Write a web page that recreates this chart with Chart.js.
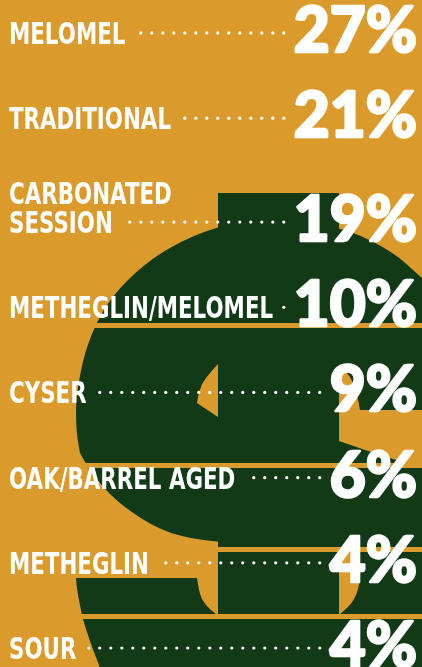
<!DOCTYPE html>
<html lang="en">
<head>
<meta charset="UTF-8">
<title>Mead styles</title>
<script src="https://cdn.jsdelivr.net/npm/chart.js"></script>
<style>
    html, body { margin: 0; padding: 0; background: #db9b2c; overflow: hidden; }
    #wrap { width: 422px; height: 667px; }
</style>
</head>
<body>
<div id="wrap"><canvas id="meadChart" width="422" height="667"></canvas></div>
<script>
    // data
    const categories = ['MELOMEL', 'TRADITIONAL', 'CARBONATED\nSESSION', 'METHEGLIN/MELOMEL',
        'CYSER', 'OAK/BARREL AGED', 'METHEGLIN', 'SOUR'];
    const shares = [27, 21, 19, 10, 9, 6, 4, 4];

    const ORANGE = '#db9b2c';
    const GREEN = '#123a16';
    const LABEL_FONT = '700 30px "DejaVu Sans", sans-serif';
    const PCT_FONT = '900 62px Lato, "DejaVu Sans", sans-serif';
    const EXTRA_LINE = 0.22; // a two-line label pushes its row down a bit

    // row position = index + extra room for multi-line labels
    let extra = 0;
    const rowPos = categories.map((c, i) => {
        extra += c.split('\n').length - 1;
        return i + extra * EXTRA_LINE;
    });

    // smooth path through points (quadratic through midpoints)
    function smooth(ctx, pts, first) {
        if (first) ctx.moveTo(pts[0][0], pts[0][1]); else ctx.lineTo(pts[0][0], pts[0][1]);
        for (let i = 1; i < pts.length - 1; i++) {
            const mx = (pts[i][0] + pts[i + 1][0]) / 2, my = (pts[i][1] + pts[i + 1][1]) / 2;
            ctx.quadraticCurveTo(pts[i][0], pts[i][1], mx, my);
        }
        const last = pts[pts.length - 1];
        ctx.lineTo(last[0], last[1]);
    }
    function straight(ctx, pts) {
        pts.forEach(p => ctx.lineTo(p[0], p[1]));
    }

    // the big dollar sign in the background
    function drawDollar(ctx) {
        ctx.fillStyle = GREEN;
        ctx.beginPath();
        smooth(ctx, [[80,453],[77,437],[76,420],[76,403],[78,387],[81,370],[85,353],[91,336],[98,320],
            [108,303],[120,288],[135,273],[152,259],[171,247],[193,236],[218,227],[248,222],[278,221],
            [310,223],[339,228],[362,236],[383,247],[400,258],[414,271],[430,285],[450,305]], true);
        straight(ctx, [[450,410],[360,410]]);
        smooth(ctx, [[360,410],[357,392],[350,376],[339,364]]);
        straight(ctx, [[218,364]]);
        smooth(ctx, [[218,364],[205,378],[199,391],[197,403]]);
        straight(ctx, [[218,417],[339,441],[380,455],[422,468],[450,477],[450,700],[110,700]]);
        smooth(ctx, [[110,700],[100,667],[93,650],[88,635],[83,620],[80,605],[77,590],[76,578]]);
        straight(ctx, [[197,578]]);
        smooth(ctx, [[197,578],[199,593],[205,605],[217,615]]);
        straight(ctx, [[339,615]]);
        smooth(ctx, [[339,615],[350,606],[357,594],[360,580],[360,552]]);
        smooth(ctx, [[360,552],[300,547],[217,542],[190,538],[170,533],[150,524],[133,513],
            [117,501],[103,487],[90,471],[80,453]]);
        ctx.closePath();
        ctx.fill();
        // vertical stroke
        ctx.fillRect(218, 193, 121, 520);
        // orange cuts
        ctx.fillStyle = ORANGE;
        [323, 463, 547, 614].forEach(y => ctx.fillRect(0, y, 422, 5));
    }

    const backdrop = {
        id: 'backdrop',
        beforeDraw(chart) {
            const ctx = chart.ctx;
            ctx.save();
            ctx.fillStyle = ORANGE;
            ctx.fillRect(0, 0, chart.width, chart.height);
            drawDollar(ctx);
            ctx.restore();
        }
    };

    // labels, dotted leaders and big numbers
    const rowText = {
        id: 'rowText',
        afterDatasetsDraw(chart) {
            const ctx = chart.ctx;
            const meta = chart.getDatasetMeta(0);
            ctx.save();
            ctx.fillStyle = '#ffffff';
            ctx.strokeStyle = '#ffffff';
            ctx.lineJoin = 'round';
            // squeeze the label font so "TRADITIONAL" is about 162px wide
            ctx.font = LABEL_FONT;
            const sx = 162 / ctx.measureText('TRADITIONAL').width;
            meta.data.forEach((pt, i) => {
                const y = pt.y;
                const lines = categories[i].split('\n');
                ctx.font = LABEL_FONT;
                ctx.textAlign = 'left';
                ctx.textBaseline = 'alphabetic';
                lines.forEach((ln, k) => {
                    ctx.save();
                    ctx.translate(9, y + 11 - (lines.length - 1 - k) * 29);
                    ctx.scale(sx, 1);
                    ctx.fillText(ln, 0, 0);
                    ctx.restore();
                });
                const labelEnd = 9 + ctx.measureText(lines[lines.length - 1]).width * sx;

                const txt = shares[i] + '%';
                ctx.font = PCT_FONT;
                ctx.textAlign = 'right';
                ctx.lineWidth = 2.5;
                ctx.strokeText(txt, 417, y + 19);
                ctx.fillText(txt, 417, y + 19);
                const pctStart = 417 - ctx.measureText(txt).width;

                for (let x = pctStart - 10; x >= labelEnd + 9; x -= 11) {
                    ctx.beginPath();
                    ctx.arc(x, y, 1.6, 0, Math.PI * 2);
                    ctx.fill();
                }
            });
            ctx.restore();
        }
    };

    const ctx = document.getElementById('meadChart').getContext('2d');
    new Chart(ctx, {
        type: 'scatter',
        data: {
            datasets: [{
                data: shares.map((v, i) => ({ x: v, y: rowPos[i] })),
                pointRadius: 0
            }]
        },
        options: {
            responsive: false,
            animation: false,
            layout: { padding: 0 },
            plugins: { legend: { display: false }, tooltip: { enabled: false } },
            scales: {
                x: { display: false, min: 0, max: 30 },
                y: { display: false, reverse: true, min: -0.387, max: 7.443 }
            }
        },
        plugins: [backdrop, rowText]
    });
</script>
</body>
</html>
